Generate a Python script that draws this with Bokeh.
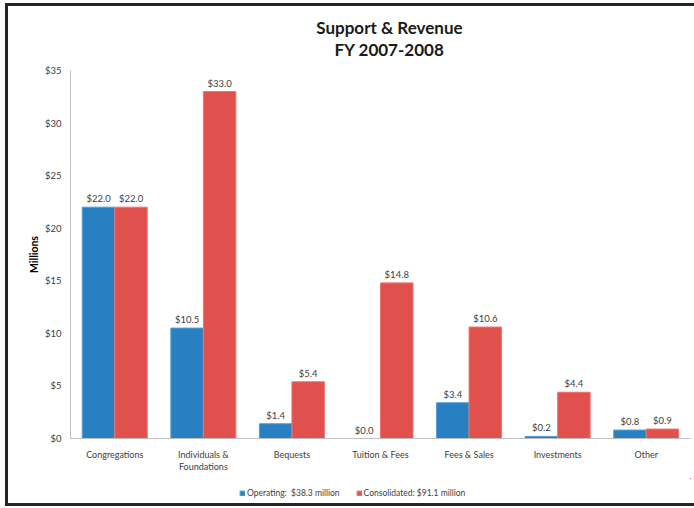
from bokeh.plotting import figure
from bokeh.layouts import column
from bokeh.models import (ColumnDataSource, Range1d, FixedTicker, LinearAxis,
                          NumeralTickFormatter, Legend, LegendItem,
                          InlineStyleSheet)
from bokeh.transform import dodge
from bokeh.core.properties import value
from bokeh.embed import file_html
from bokeh.resources import INLINE

categories = ["Congregations", "Individuals & Foundations", "Bequests",
              "Tuition & Fees", "Fees & Sales", "Investments", "Other"]
operating = [22.0, 10.5, 1.4, 0.0, 3.4, 0.2, 0.8]
consolidated = [22.0, 33.0, 5.4, 14.8, 10.6, 4.4, 0.9]
y_ticks = [0, 5, 10, 15, 20, 25, 30, 35]
series_names = ["Operating:  $38.3 million", "Consolidated: $91.1 million"]
title_lines = ["Support & Revenue", "FY 2007-2008"]

FONT = "Lato"
BLUE = "#2680c2"
RED = "#e0504d"
TXT = "#404040"
BLUE_EDGE = "#4f9bd6"
RED_EDGE = "#ee7471"
W = 692

pos = [i + 0.5 for i in range(len(categories))]
src = ColumnDataSource(dict(
    pos=pos,
    op=operating,
    co=consolidated,
    op_lbl=["$%.1f" % v for v in operating],
    co_lbl=["$%.1f" % v for v in consolidated],
))

# ---- title strip (pixel-mapped ranges, used only for placing the two lines)
TH = 62
tf = figure(width=W, height=TH, output_backend="svg", toolbar_location=None,
            x_range=Range1d(0, W), y_range=Range1d(0, TH), title=None,
            x_axis_type=None, y_axis_type=None, min_border_left=0,
            min_border_right=0, min_border_top=0, min_border_bottom=0)
tf.outline_line_color = None
tf.background_fill_color = "white"
tf.border_fill_color = "white"
tf.grid.visible = False
tsrc = ColumnDataSource(dict(x=[356, 356], y=[TH - 27, TH - 49], t=title_lines))
tf.text(x="x", y="y", text="t", source=tsrc, text_font=value(FONT),
        text_font_style="bold", text_font_size="17px", text_color="#1a1a1a",
        text_align="center", text_baseline="middle")

# ---- main chart
p = figure(width=W, height=416, output_backend="svg", toolbar_location=None,
           x_range=Range1d(0, len(categories)), y_range=Range1d(0, 35),
           title=None, x_axis_type=None,
           min_border_left=70, min_border_right=2, min_border_top=8,
           min_border_bottom=40)
p.outline_line_color = None
p.background_fill_color = "white"
p.border_fill_color = "white"
p.ygrid.visible = False

bw = 0.367
p.vbar(x=dodge("pos", -bw / 2), top="op", width=bw, source=src,
       fill_color=BLUE, line_color=BLUE_EDGE, line_width=1)
p.vbar(x=dodge("pos", bw / 2), top="co", width=bw, source=src,
       fill_color=RED, line_color=RED_EDGE, line_width=1)

for xo, col in ((-bw / 2, "op_lbl"), (bw / 2, "co_lbl")):
    p.text(x=dodge("pos", xo), y=col[:2], text=col, source=src,
           text_font=value(FONT), text_font_size="9.5px", text_color=TXT,
           text_align="center", text_baseline="bottom", y_offset=-3)

ya = p.yaxis[0]
ya.ticker = FixedTicker(ticks=y_ticks)
ya.formatter = NumeralTickFormatter(format="$0")
ya.axis_line_color = "#bfbfbf"
ya.major_tick_line_color = None
ya.minor_tick_line_color = None
ya.major_label_text_font = FONT
ya.major_label_text_font_size = "9.5px"
ya.major_label_text_color = TXT
ya.major_label_standoff = 3
ya.axis_label = "Millions"
ya.axis_label_text_font = FONT
ya.axis_label_text_font_style = "bold"
ya.axis_label_text_font_size = "10.5px"
ya.axis_label_text_color = "#000000"
ya.axis_label_standoff = 2

# two stacked x axes give the two-line category label
line1 = {}
line2 = {}
for x, c in zip(pos, categories):
    if c == "Individuals & Foundations":
        line1[x] = "Individuals &"
        line2[x] = "Foundations"
    else:
        line1[x] = c
        line2[x] = " "

xa = LinearAxis(ticker=FixedTicker(ticks=pos), major_label_overrides=line1,
                axis_line_color="#bfbfbf", major_tick_line_color=None,
                minor_tick_line_color=None, major_tick_out=0, major_tick_in=0,
                major_label_text_font=FONT, major_label_text_font_size="9px",
                major_label_text_color=TXT, major_label_standoff=10)
xa2 = LinearAxis(ticker=FixedTicker(ticks=pos), major_label_overrides=line2,
                 axis_line_color=None, major_tick_line_color=None,
                 minor_tick_line_color=None, major_tick_out=0, major_tick_in=0,
                 major_label_text_font=FONT, major_label_text_font_size="9px",
                 major_label_text_color=TXT, major_label_standoff=-2)
p.add_layout(xa, "below")
p.add_layout(xa2, "below")

# ---- legend strip (renderers use the same data, drawn outside its ranges)
lf = figure(width=W, height=28, output_backend="svg", toolbar_location=None,
            x_range=Range1d(-3, -2), y_range=Range1d(-3, -2), title=None,
            x_axis_type=None, y_axis_type=None,
            min_border_left=0, min_border_right=0, min_border_top=0,
            min_border_bottom=0)
lf.outline_line_color = None
lf.background_fill_color = "white"
lf.border_fill_color = "white"
lf.grid.visible = False
lf_op = lf.vbar(x="pos", top="op", width=bw, source=src,
                fill_color=BLUE, line_color=BLUE_EDGE)
lf_co = lf.vbar(x="pos", top="co", width=bw, source=src,
                fill_color=RED, line_color=RED_EDGE)
legend = Legend(items=[LegendItem(label=series_names[0], renderers=[lf_op]),
                       LegendItem(label=series_names[1], renderers=[lf_co])],
                orientation="horizontal", location=(169, 8),
                glyph_width=6, glyph_height=6, label_height=8,
                label_text_font=FONT, label_text_font_size="8.5px",
                label_text_color=TXT, label_standoff=2, spacing=16,
                padding=2, margin=0, border_line_color=None,
                background_fill_alpha=0)
lf.add_layout(legend, "center")

layout = column(tf, p, lf, spacing=0)
layout.stylesheets = [InlineStyleSheet(css=(
    ":host{position:relative;}"
    ":host::after{content:'';position:absolute;left:5px;top:3px;right:-20px;"
    "bottom:0px;border:3px solid #262626;border-right:none;"
    "pointer-events:none;z-index:10;}"))]

open("out.html", "w").write(file_html(layout, INLINE))
